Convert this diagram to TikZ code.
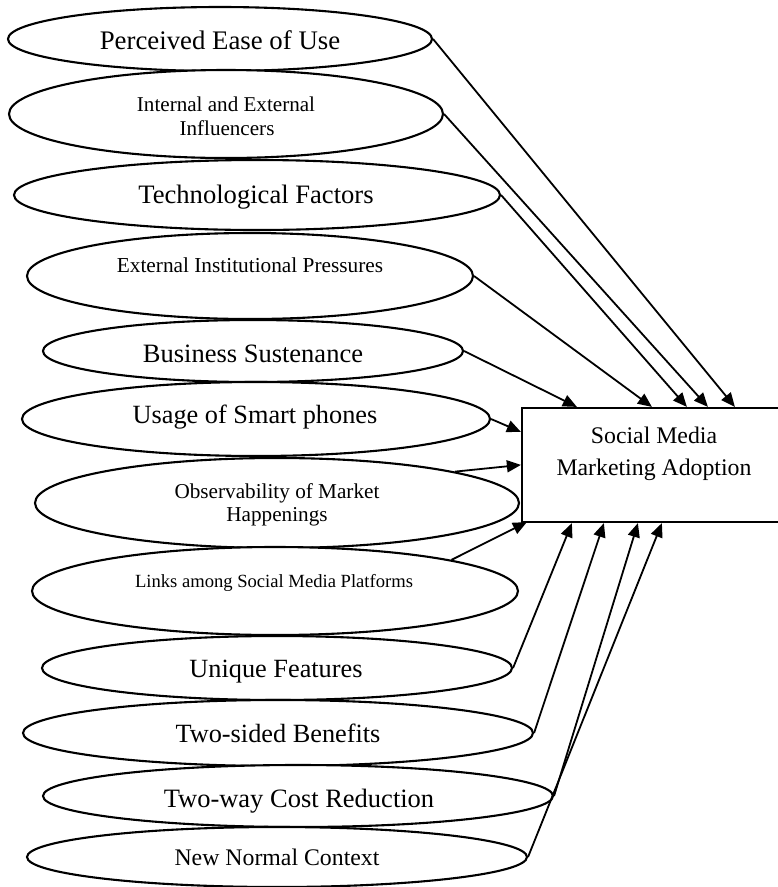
\documentclass[tikz,border=0pt]{standalone}
\usepackage{fontspec}
\setmainfont{Liberation Serif}
\usetikzlibrary{shapes.geometric,arrows.meta,calc}
\tikzset{
  oval/.style={draw, ellipse, line width=2.1pt, inner sep=0pt, fill=white},
  lbl/.style={anchor=base, inner sep=0pt},
  conn/.style={line width=1.8pt, -{Triangle[length=14pt,width=12pt]}},
  target/.style={draw, rectangle, line width=2.2pt, inner sep=0pt, minimum width=264pt, minimum height=114pt}
}
\newcommand{\fs}[1]{\fontsize{#1}{#1}\selectfont}
\begin{document}
\begin{tikzpicture}[x=1pt,y=-1pt]
\useasboundingbox (0,0) rectangle (778,887);
\clip (0,0) rectangle (778,887);
% ellipses
\node[oval, minimum width=424pt, minimum height=64pt] (e1) at (220,39) {};
\node[oval, minimum width=434pt, minimum height=88pt] (e2) at (226,114) {};
\node[oval, minimum width=486pt, minimum height=70pt] (e3) at (257,195) {};
\node[oval, minimum width=446pt, minimum height=86pt] (e4) at (250,276) {};
\node[oval, minimum width=420pt, minimum height=62pt] (e5) at (253,351) {};
\node[oval, minimum width=468pt, minimum height=74pt] (e6) at (256,419) {};
\node[oval, minimum width=484pt, minimum height=90pt] (e7) at (277,503) {};
\node[oval, minimum width=486pt, minimum height=88pt] (e8) at (275,591) {};
\node[oval, minimum width=470pt, minimum height=64pt] (e9) at (277,668) {};
\node[oval, minimum width=510pt, minimum height=66pt] (e10) at (278,733) {};
\node[oval, minimum width=510pt, minimum height=62pt] (e11) at (298,796) {};
\node[oval, minimum width=500pt, minimum height=60pt] (e12) at (277,857) {};
% labels
\node[lbl, font=\fs{26.8}] (t1) at (220,49) {Perceived Ease of Use};
\node[lbl, font=\fs{21.1}] (t2a) at (226,111) {Internal and External};
\node[lbl, font=\fs{21.1}] (t2b) at (227,135) {Influencers};
\node[lbl, font=\fs{26.6}] (t3) at (256,203) {Technological Factors};
\node[lbl, font=\fs{21.3}] (t4) at (250,272) {External Institutional Pressures};
\node[lbl, font=\fs{26.5}] (t5) at (253,362) {Business Sustenance};
\node[lbl, font=\fs{26.3}] (t6) at (255,423) {Usage of Smart phones};
\node[lbl, font=\fs{21.2}] (t7a) at (277,498) {Observability of Market};
\node[lbl, font=\fs{21.2}] (t7b) at (277,521) {Happenings};
\node[lbl, font=\fs{18.6}] (t8) at (274,587) {Links among Social Media Platforms};
\node[lbl, font=\fs{26.3}] (t9) at (276,677) {Unique Features};
\node[lbl, font=\fs{26.3}] (t10) at (278,742) {Two-sided Benefits};
\node[lbl, font=\fs{26.5}] (t11) at (299,807) {Two-way Cost Reduction};
\node[lbl, font=\fs{23.8}] (t12) at (277,865) {New Normal Context};
% target box
\node[target] (sm) at (654,465) {};
\node[lbl, font=\fs{23.8}] (sa) at (654,443) {Social Media};
\node[lbl, font=\fs{23.8}] (sb) at (654,475) {Marketing Adoption};
% connectors
\draw[conn] (e1.east) -- ($(sm.north west)+(214,0)$);
\draw[conn] (e2.east) -- ($(sm.north west)+(187,0)$);
\draw[conn] (e3.east) -- ($(sm.north west)+(166,0)$);
\draw[conn] (e4.east) -- ($(sm.north west)+(131,0)$);
\draw[conn] (e5.east) -- ($(sm.north west)+(56,0)$);
\draw[conn] (e6.east) -- ($(sm.north west)+(0,25)$);
\draw[conn] (e7.10.7) -- ($(sm.north west)+(0,58)$);
\draw[conn] (e8.10.2) -- ($(sm.south west)+(6,-1)$);
\draw[conn] (e9.east) -- ($(sm.south west)+(51,0)$);
\draw[conn] (e10.east) -- ($(sm.south west)+(83,0)$);
\draw[conn] (e11.east) -- ($(sm.south west)+(117,0)$);
\draw[conn] (e12.east) -- ($(sm.south west)+(141,0)$);
\end{tikzpicture}
\end{document}
